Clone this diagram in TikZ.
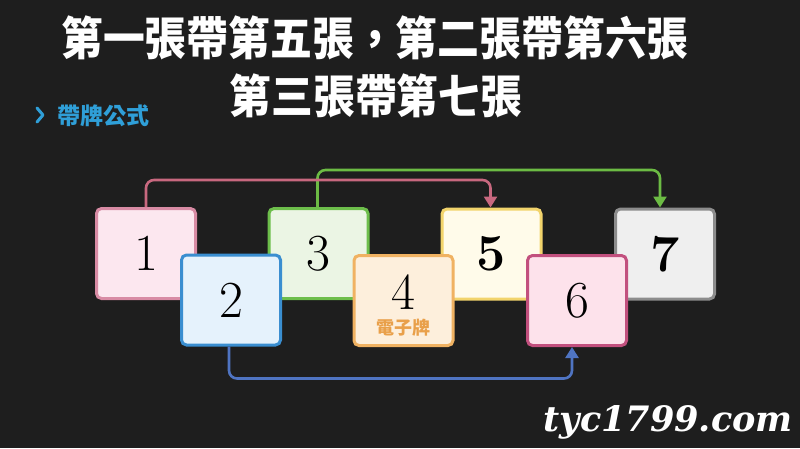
\documentclass[tikz,border=0pt]{standalone}
\usepackage{fontspec}
\usetikzlibrary{arrows.meta}
\newfontfamily\cjk{Noto Sans CJK TC}
\newfontfamily\wmfont{DejaVu Serif}
\definecolor{bgc}{HTML}{1E1E1E}
\definecolor{bdA}{HTML}{D88BA4}\definecolor{fA}{HTML}{FCE7EF}
\definecolor{bdB}{HTML}{3A8ED0}\definecolor{fB}{HTML}{E5F2FC}
\definecolor{bdC}{HTML}{6DBE4B}\definecolor{fC}{HTML}{EBF5E4}
\definecolor{bdD}{HTML}{F0B262}\definecolor{fD}{HTML}{FDEFDC}
\definecolor{bdE}{HTML}{F2D46C}\definecolor{fE}{HTML}{FFFBEA}
\definecolor{bdF}{HTML}{C2507E}\definecolor{fF}{HTML}{FDE2EB}
\definecolor{bdG}{HTML}{8C8C8C}\definecolor{fG}{HTML}{EFEFEF}
\definecolor{arP}{HTML}{C8687F}
\definecolor{arG}{HTML}{6CBB44}
\definecolor{arB}{HTML}{4F74C2}
\definecolor{hdblue}{HTML}{2F9FD8}
\definecolor{orangetxt}{HTML}{E9A04A}
\tikzset{
  card/.style={draw, line width=3pt, rounded corners=5pt, minimum width=99pt, minimum height=90pt,
    inner sep=0pt, font=\fontsize{52}{52}\selectfont, text=black},
  link/.style={line width=2.6pt, rounded corners=8pt, -{Triangle[width=13pt,length=11pt]}},
  title/.style={text=white, font=\cjk\bfseries\fontsize{41}{41}\selectfont, inner sep=0pt}
}
\begin{document}
\begin{tikzpicture}[x=1pt,y=-1pt]
\fill[bgc] (0,0) rectangle (800,448);
\useasboundingbox (0,0) rectangle (800,448);
% titles
\node[title] (t1) at (375,38) {\scalebox{1.02}[1.12]{第一張帶第五張，第二張帶第六張}};
\node[title] (t2) at (376,96) {\scalebox{1.02}[1.12]{第三張帶第七張}};
% subtitle
\draw[hdblue, line width=3pt, line cap=round, line join=round] (37,108) coordinate (chv) -- (43,115) -- (37,122);
\node[text=hdblue, font=\cjk\bfseries\fontsize{23}{23}\selectfont, anchor=west, inner sep=0pt] (sub) at (57,115.5) {帶牌公式};
% back row
\node[card, fill=fA, draw=bdA] (b1) at (146,253.5) {1};
\node[card, fill=fC, draw=bdC] (b3) at (318.5,253.5) {3};
\node[card, fill=fE, draw=bdE] (b5) at (491.5,254) {\bfseries 5};
\node[card, fill=fG, draw=bdG] (b7) at (665,254) {\bfseries 7};
% front row
\node[card, fill=fB, draw=bdB] (b2) at (231,300) {2};
\node[card, fill=fD, draw=bdD] (b4) at (403.5,300.5) {};
\node[font=\fontsize{52}{52}\selectfont, inner sep=0pt] (n4) at (403.5,292) {4};
\node[text=orangetxt, font=\cjk\bfseries\fontsize{18}{18}\selectfont, inner sep=0pt] (e4) at (403.5,328) {電子牌};
\node[card, fill=fF, draw=bdF] (b6) at (577,300.5) {6};
% connectors
\draw[link, arG] ([xshift=-1pt]b3.north) -- ++(0,-37) -| ([xshift=-5pt]b7.north);
\draw[link, arP] (b1.north) -- ++(0,-27) -| ([xshift=-1pt]b5.north);
\draw[link, arB] ([xshift=-2pt]b2.south) -- ++(0,32) -| ([xshift=-5pt]b6.south);
% watermark
\node[text=white, font=\wmfont\bfseries\itshape\fontsize{35}{35}\selectfont, inner sep=0pt, anchor=east] (wm) at (793,422) {tyc1799.com};
\end{tikzpicture}
\end{document}
